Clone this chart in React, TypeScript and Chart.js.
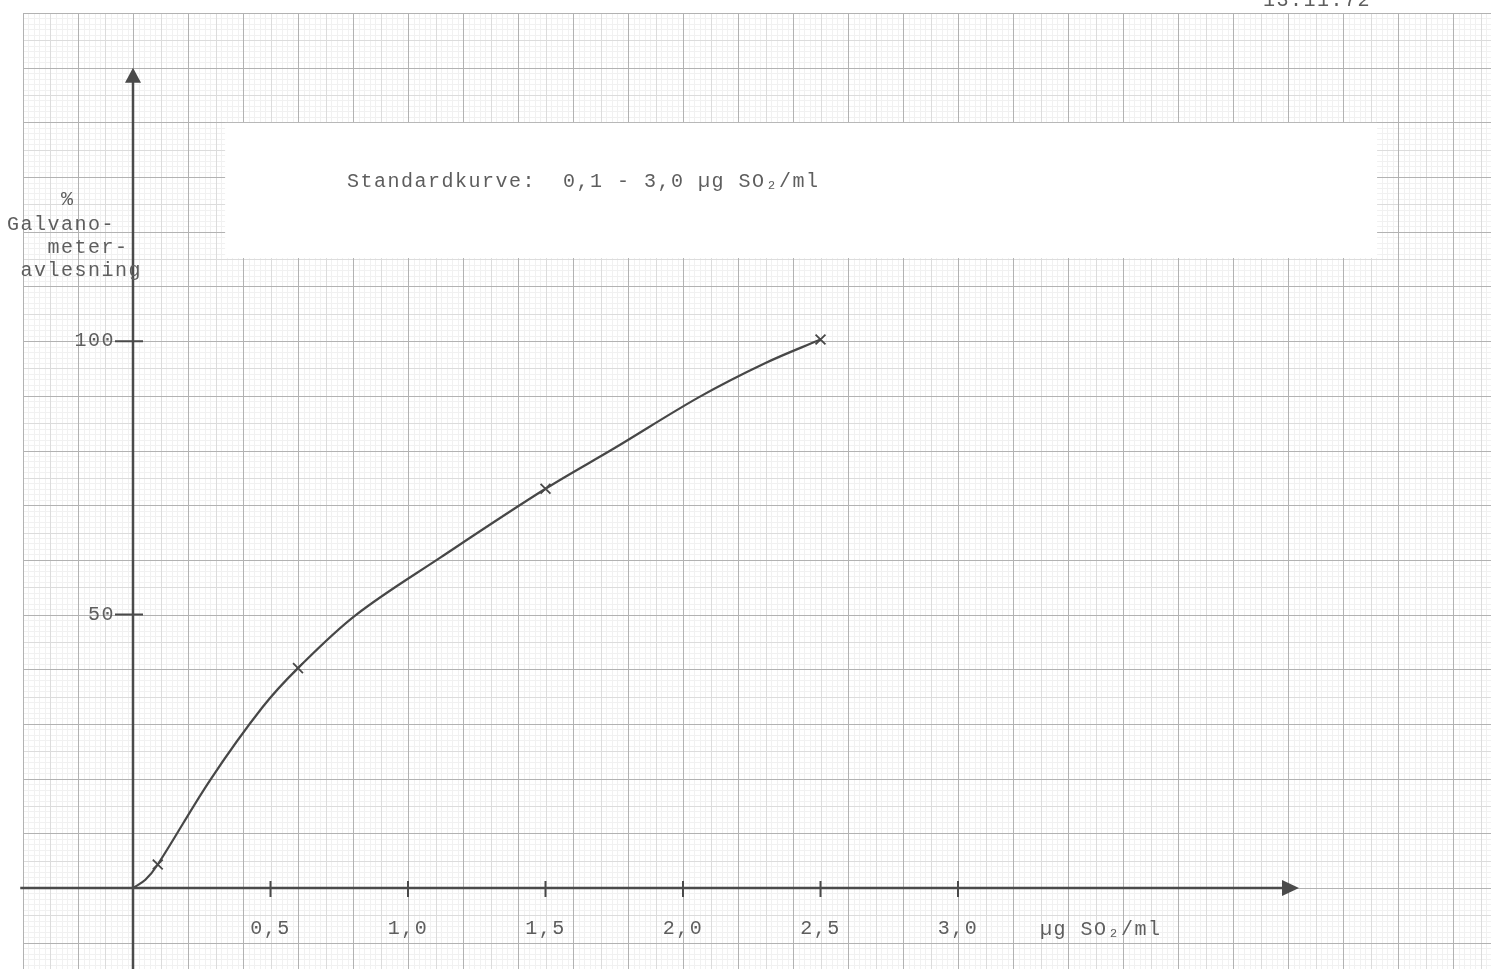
import React, { useEffect, useRef } from "react";
import { Chart, registerables } from "chart.js";

Chart.register(...registerables);

// ---- data ----
const curveX = [0, 0.045, 0.09, 0.28, 0.47, 0.6, 0.81, 1.12, 1.5, 1.75, 2.06, 2.3, 2.5];
const curveY = [0, 1.5, 4.3, 19.7, 33, 40.2, 49.9, 60.5, 73, 80.4, 89.8, 96, 100.3];
const pointX = [0.09, 0.6, 1.5, 2.5];
const pointY = [4.3, 40.2, 73, 100.3];
const xTicks = [0.5, 1.0, 1.5, 2.0, 2.5, 3.0];
const yTicks = [50, 100];

const titleText = "Standardkurve:  0,1 - 3,0 µg SO₂/ml";
const xUnitText = "µg SO₂/ml";
const yTitleLines = ["    %", "Galvano-", "   meter-", " avlesning"];
const dateText = "13.11.72";

// ---- layout / style ----
const W = 1491;
const H = 969;
const FAMILY = '"Liberation Mono", "DejaVu Sans Mono", monospace';
const FONT = `20px ${FAMILY}`;
const INK = "#5e5e5e";
const AXIS = "#4a4a4a";
const LETTER = "1.5px";

const X_MIN = 0, X_MAX = 4.8;
const Y_MIN = 0, Y_MAX = 160;
const PAPER = { xMin: -0.4, xMax: 5.2, yMax: 160, yMin: -20 };
const BOX = { x0: 0.335, x1: 4.524, y0: 115.2, y1: 139.9 };
const ARROW = { xStart: -0.41, xTip: 4.24, yTip: 150 };

const paperPlugin = {
  id: "paper",
  beforeDraw(chart: any) {
    const { ctx } = chart;
    const xs = chart.scales.x;
    const ys = chart.scales.y;
    ctx.save();
    ctx.fillStyle = "#ffffff";
    ctx.fillRect(0, 0, W, H);
    const top = ys.getPixelForValue(PAPER.yMax);
    const left = xs.getPixelForValue(PAPER.xMin);
    const passes = [
      { color: "#f1f1f1", pick: (i: number) => i % 5 !== 0 },
      { color: "#dcdcdc", pick: (i: number) => i % 5 === 0 && i % 10 !== 0 },
      { color: "#b2b2b2", pick: (i: number) => i % 10 === 0 },
    ];
    ctx.lineWidth = 1;
    const nx = Math.round((PAPER.xMax - PAPER.xMin) / 0.02);
    const ny = Math.round((PAPER.yMax - PAPER.yMin) / 1);
    for (const p of passes) {
      ctx.strokeStyle = p.color;
      ctx.beginPath();
      for (let i = 0; i <= nx; i++) {
        if (!p.pick(i)) continue;
        const v = PAPER.xMin + i * 0.02;
        const px = Math.round(xs.getPixelForValue(v)) + 0.5;
        if (px > W + 1) break;
        ctx.moveTo(px, top);
        ctx.lineTo(px, H);
      }
      for (let i = 0; i <= ny; i++) {
        if (!p.pick(i)) continue;
        const v = PAPER.yMax - i;
        const py = Math.round(ys.getPixelForValue(v)) + 0.5;
        if (py > H + 1) break;
        ctx.moveTo(left, py);
        ctx.lineTo(W, py);
      }
      ctx.stroke();
    }
    // blank label sheet on top of the paper
    const bx0 = xs.getPixelForValue(BOX.x0);
    const bx1 = xs.getPixelForValue(BOX.x1);
    const by0 = ys.getPixelForValue(BOX.y1);
    const by1 = ys.getPixelForValue(BOX.y0);
    ctx.fillStyle = "#ffffff";
    ctx.fillRect(bx0, by0, bx1 - bx0, by1 - by0);
    ctx.restore();
    ctx.letterSpacing = LETTER;
  },
  afterDatasetsDraw(chart: any) {
    const { ctx } = chart;
    const xs = chart.scales.x;
    const ys = chart.scales.y;
    const ax = xs.getPixelForValue(0);
    const ay = ys.getPixelForValue(0);
    ctx.save();
    ctx.strokeStyle = AXIS;
    ctx.fillStyle = AXIS;
    ctx.lineWidth = 2.5;
    // y axis with arrow
    const yTip = ys.getPixelForValue(ARROW.yTip);
    ctx.beginPath();
    ctx.moveTo(ax, H);
    ctx.lineTo(ax, yTip + 10);
    ctx.stroke();
    ctx.beginPath();
    ctx.moveTo(ax, yTip);
    ctx.lineTo(ax - 8, yTip + 15);
    ctx.lineTo(ax + 8, yTip + 15);
    ctx.closePath();
    ctx.fill();
    // x axis with arrow
    const xStart = xs.getPixelForValue(ARROW.xStart);
    const xTip = xs.getPixelForValue(ARROW.xTip);
    ctx.beginPath();
    ctx.moveTo(xStart, ay);
    ctx.lineTo(xTip - 10, ay);
    ctx.stroke();
    ctx.beginPath();
    ctx.moveTo(xTip, ay);
    ctx.lineTo(xTip - 17, ay - 8);
    ctx.lineTo(xTip - 17, ay + 8);
    ctx.closePath();
    ctx.fill();
    // tick marks
    ctx.lineWidth = 2;
    ctx.beginPath();
    for (const v of xTicks) {
      const px = xs.getPixelForValue(v);
      ctx.moveTo(px, ay - 7);
      ctx.lineTo(px, ay + 9);
    }
    for (const v of yTicks) {
      const py = ys.getPixelForValue(v);
      ctx.moveTo(ax - 18, py);
      ctx.lineTo(ax + 10, py);
    }
    ctx.stroke();
    ctx.restore();
  },
  afterDraw(chart: any) {
    const { ctx } = chart;
    ctx.save();
    ctx.font = FONT;
    ctx.fillStyle = INK;
    ctx.letterSpacing = LETTER;
    ctx.textAlign = "left";
    ctx.textBaseline = "alphabetic";
    ctx.fillText(titleText, 347, 187);
    ctx.fillText(xUnitText, 1040, 935);
    const baselines = [205, 230, 253, 276];
    yTitleLines.forEach((t, i) => ctx.fillText(t, 7, baselines[i]));
    ctx.fillText(dateText, 1263, 6);
    ctx.restore();
    ctx.letterSpacing = "0px";
  },
};

export default function App() {
  const ref = useRef<HTMLCanvasElement | null>(null);
  useEffect(() => {
    if (!ref.current) return;
    const tickFont = { family: FAMILY, size: 20 };
    const chart = new Chart(ref.current, {
      type: "line",
      data: {
        datasets: [
          {
            label: "Standardkurve",
            data: curveX.map((x, i) => ({ x, y: curveY[i] })),
            borderColor: "#474747",
            borderWidth: 2.2,
            pointRadius: 0,
            tension: 0.35,
            fill: false,
          },
          {
            label: "Målepunkter",
            data: pointX.map((x, i) => ({ x, y: pointY[i] })),
            showLine: false,
            pointStyle: "crossRot",
            pointRadius: 7,
            pointBorderWidth: 1.8,
            pointBorderColor: "#474747",
            borderColor: "#474747",
          },
        ],
      },
      options: {
        responsive: false,
        animation: false,
        devicePixelRatio: 1,
        layout: { padding: { left: 73, right: 38, top: 13, bottom: 0 } },
        plugins: {
          legend: { display: false },
          tooltip: { enabled: false },
          title: { display: false },
        },
        scales: {
          x: {
            type: "linear",
            position: "bottom",
            min: X_MIN,
            max: X_MAX,
            grid: { display: false, drawTicks: false },
            border: { display: false },
            afterBuildTicks: (s: any) => {
              s.ticks = xTicks.map((v) => ({ value: v }));
            },
            afterFit: (s: any) => {
              s.height = 81;
              s.paddingLeft = 0;
              s.paddingRight = 0;
            },
            ticks: {
              autoSkip: false,
              maxRotation: 0,
              padding: 29,
              color: INK,
              font: tickFont,
              callback: (v: any) => Number(v).toFixed(1).replace(".", ","),
            },
          },
          y: {
            type: "linear",
            position: "left",
            min: Y_MIN,
            max: Y_MAX,
            grid: { display: false, drawTicks: false },
            border: { display: false },
            afterBuildTicks: (s: any) => {
              s.ticks = yTicks.map((v) => ({ value: v }));
            },
            afterFit: (s: any) => {
              s.width = 60;
              s.paddingTop = 0;
              s.paddingBottom = 0;
            },
            ticks: {
              autoSkip: false,
              padding: 18,
              color: INK,
              font: tickFont,
              callback: (v: any) => String(v),
            },
          },
        },
      },
      plugins: [paperPlugin],
    } as any);
    return () => chart.destroy();
  }, []);

  return (
    <div style={{ position: "fixed", left: 0, top: 0, width: W, height: H, background: "#fff" }}>
      <canvas ref={ref} width={W} height={H} style={{ display: "block", width: W, height: H }} />
    </div>
  );
}
